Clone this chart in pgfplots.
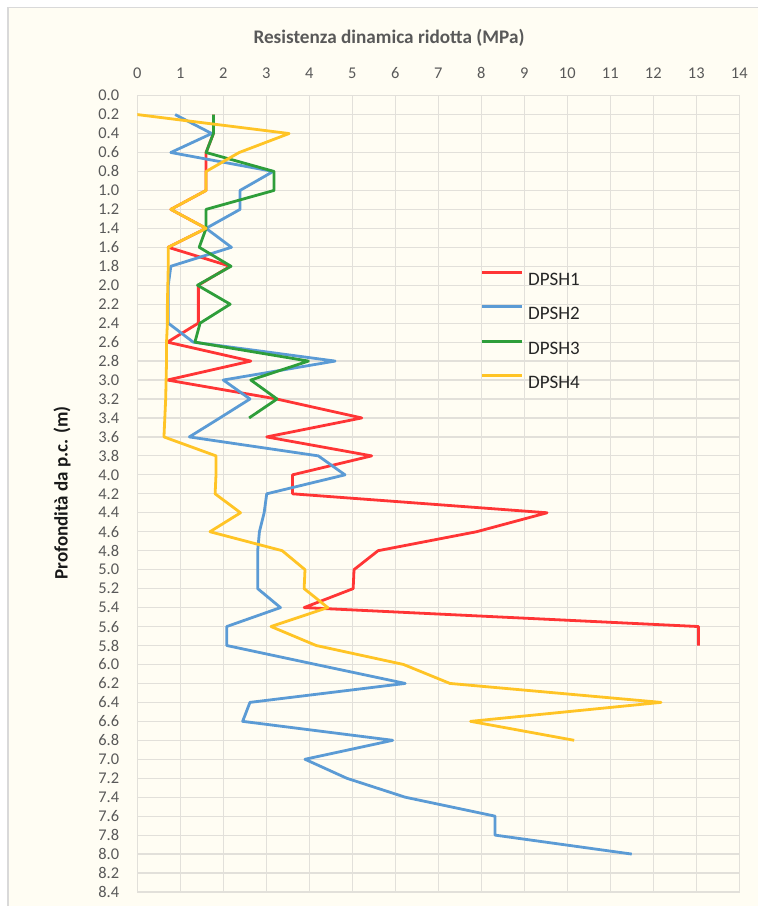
\documentclass[border=0pt]{standalone}
\usepackage{fontspec}
\setmainfont{Carlito}
\usepackage{pgfplots}
\pgfplotsset{compat=1.18}
\usepackage{pgfplotstable}
\definecolor{cream}{HTML}{FFFDF3}
\definecolor{gridc}{HTML}{E2E0DA}
\definecolor{txt}{HTML}{595959}
\definecolor{cRed}{HTML}{FF3535}
\definecolor{cBlue}{HTML}{5B9BD5}
\definecolor{cGreen}{HTML}{2E9E3A}
\definecolor{cYellow}{HTML}{FFC425}

\pgfplotstableread{
depth val
0.2 1.77
0.4 1.77
0.6 1.6
0.8 1.6
1.0 1.6
1.2 0.78
1.4 1.6
1.6 0.72
1.8 2.16
2.0 1.42
2.2 1.42
2.4 1.42
2.6 0.70
2.8 2.64
3.0 0.70
3.2 3.24
3.4 5.22
3.6 3.01
3.8 5.45
4.0 3.61
4.2 3.61
4.4 9.53
4.6 7.89
4.8 5.6
5.0 5.04
5.2 5.02
5.4 3.88
5.6 13.05
5.8 13.05
}\dpshA

\pgfplotstableread{
depth val
0.2 0.88
0.4 1.73
0.6 0.78
0.8 3.16
1.0 2.39
1.2 2.39
1.4 1.6
1.6 2.19
1.8 0.78
2.0 0.72
2.2 0.72
2.4 0.72
2.6 1.3
2.8 4.6
3.0 2.0
3.2 2.62
3.4 1.92
3.6 1.21
3.8 4.21
4.0 4.83
4.2 3.01
4.4 2.95
4.6 2.84
4.8 2.80
5.0 2.80
5.2 2.80
5.4 3.33
5.6 2.08
5.8 2.08
6.0 4.15
6.2 6.23
6.4 2.62
6.6 2.45
6.8 5.94
7.0 3.9
7.2 4.87
7.4 6.23
7.6 8.32
7.8 8.32
8.0 11.5
}\dpshB

\pgfplotstableread{
depth val
0.2 1.77
0.4 1.77
0.6 1.6
0.8 3.18
1.0 3.18
1.2 1.6
1.4 1.6
1.6 1.44
1.8 2.18
2.0 1.40
2.2 2.16
2.4 1.46
2.6 1.34
2.8 3.98
3.0 2.64
3.2 3.25
3.4 2.6
}\dpshC

\pgfplotstableread{
depth val
0.2 0.0
0.4 3.53
0.6 2.37
0.8 1.6
1.0 1.6
1.2 0.78
1.4 1.6
1.6 0.72
1.8 0.72
2.0 0.71
2.2 0.70
2.4 0.70
2.6 0.68
2.8 0.68
3.0 0.67
3.2 0.66
3.4 0.64
3.6 0.62
3.8 1.83
4.0 1.83
4.2 1.81
4.4 2.4
4.6 1.69
4.8 3.37
5.0 3.9
5.2 3.88
5.4 4.43
5.6 3.11
5.8 4.16
6.0 6.19
6.2 7.27
6.4 12.18
6.6 7.75
6.8 10.16
}\dpshD

\begin{document}
\begin{tikzpicture}[x=1pt,y=1pt]
\path[use as bounding box] (-68.65,-7) rectangle (309.85,446);
\fill[white] (-68.65,-7) rectangle (309.85,446);
\draw[fill=cream, draw=gray!30, line width=0.6pt] (-64.65,-20) rectangle (330,442.35);
\begin{axis}[
  at={(0pt,0pt)}, anchor=south west,
  scale only axis, width=301pt, height=398.2pt,
  xmin=0, xmax=14, ymin=0, ymax=8.4,
  y dir=reverse,
  xtick={0,1,...,14},
  ytick={0,0.2,0.4,0.6,0.8,1.0,1.2,1.4,1.6,1.8,2.0,2.2,2.4,2.6,2.8,3.0,3.2,3.4,3.6,3.8,4.0,4.2,4.4,4.6,4.8,5.0,5.2,5.4,5.6,5.8,6.0,6.2,6.4,6.6,6.8,7.0,7.2,7.4,7.6,7.8,8.0,8.2,8.4},
  grid=major,
  major grid style={draw=gridc, line width=0.6pt},
  axis line style={draw=gridc, line width=0.6pt},
  major tick length=0pt,
  xticklabel pos=right,
  /pgf/number format/assume math mode=true,
  ticklabel style={font=\fontsize{8.2}{9.8}\selectfont, text=txt, inner sep=0pt},
  xticklabel style={/pgf/number format/.cd, fixed, precision=0},
  yticklabel style={/pgf/number format/.cd, fixed, fixed zerofill, precision=1},
  xticklabel shift=8.35pt,
  yticklabel shift=8.9pt,
  legend style={draw=none, fill=none, at={(0.5704,0.7805)}, anchor=north west,
    inner sep=0pt, row sep=10.1pt, column sep=2.15pt,
    font=\fontsize{9.5}{11}\selectfont, text=black!85,
    nodes={inner sep=0pt, text height=6.5pt, text depth=0pt}},
  legend cell align=left,
  legend image code/.code={\draw[#1] (0pt,3.2pt) -- (20pt,3.2pt);},
  every axis plot/.append style={line width=1.4pt, line join=round},
]
\addplot[cRed] table[x=val, y=depth] {\dpshA};
\addlegendentry{DPSH1}
\addplot[cBlue] table[x=val, y=depth] {\dpshB};
\addlegendentry{DPSH2}
\addplot[cGreen] table[x=val, y=depth] {\dpshC};
\addlegendentry{DPSH3}
\addplot[cYellow] table[x=val, y=depth] {\dpshD};
\addlegendentry{DPSH4}
\end{axis}
\node[font=\bfseries\fontsize{9.6}{11}\selectfont, text=txt] at (125.85,427) {Resistenza dinamica ridotta (MPa)};
\node[font=\bfseries\fontsize{9.5}{11}\selectfont, text=black!90, rotate=90] at (-37.65,199.5) {Profondità da p.c. (m)};
\end{tikzpicture}
\end{document}
